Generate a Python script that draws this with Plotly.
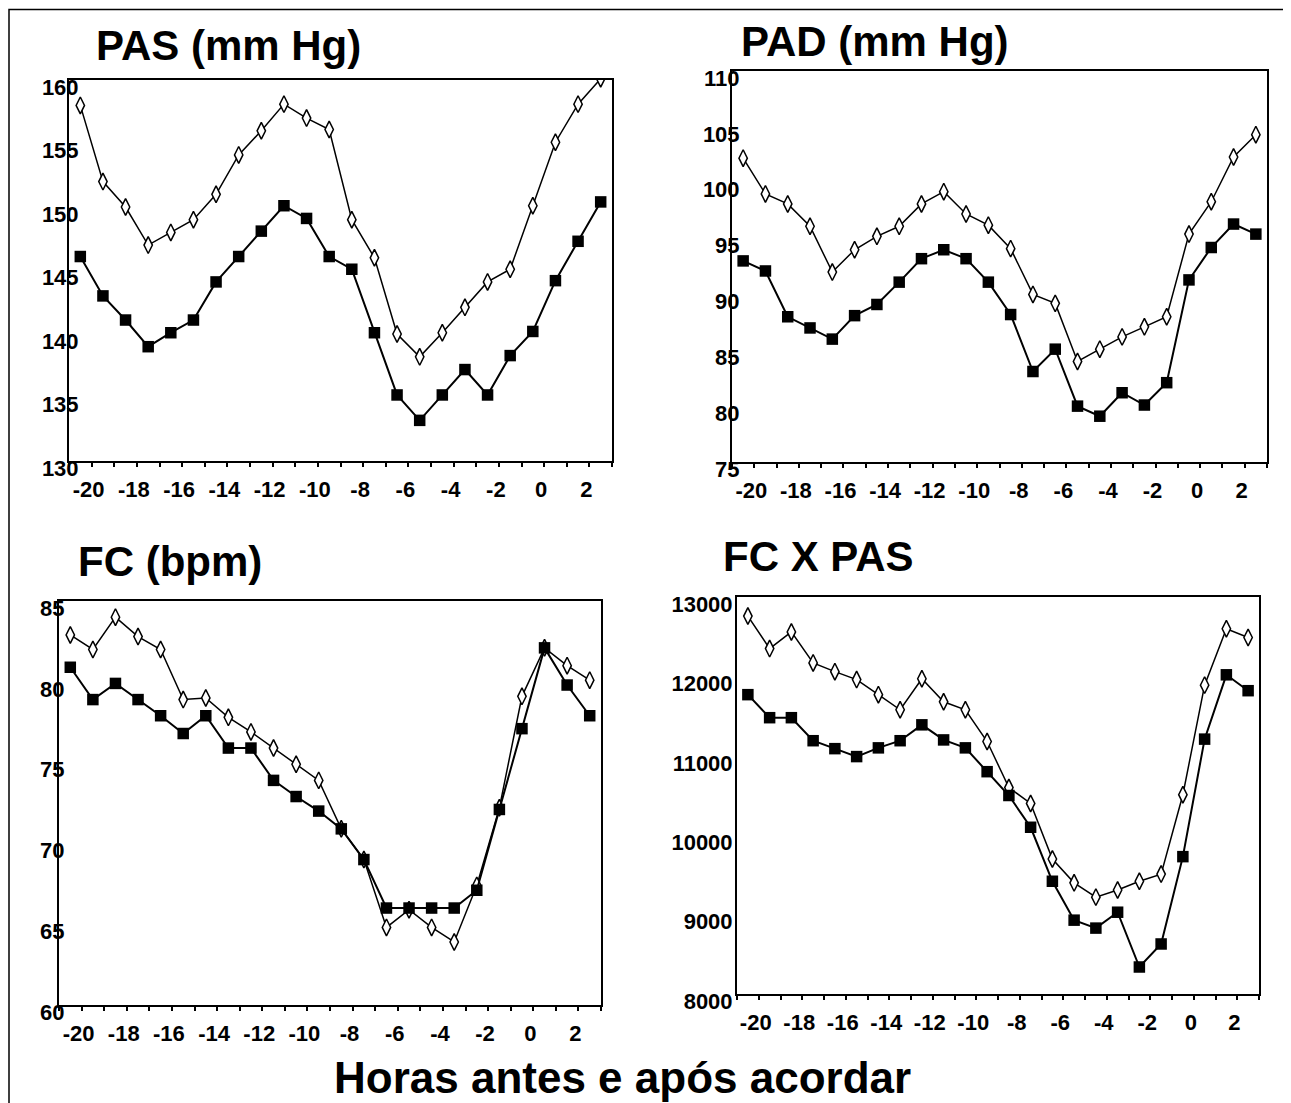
import plotly.graph_objects as go

# ---------------- data ----------------
hours = [-20.5, -19.5, -18.5, -17.5, -16.5, -15.5, -14.5, -13.5, -12.5, -11.5, -10.5, -9.5,
         -8.5, -7.5, -6.5, -5.5, -4.5, -3.5, -2.5, -1.5, -0.5, 0.5, 1.5, 2.5]

xtick_vals = [-20, -18, -16, -14, -12, -10, -8, -6, -4, -2, 0, 2]
xtick_text = ["-20", "-18", "-16", "-14", "-12", "-10", "-8", "-6", "-4", "-2", "0", "2"]

pas_open = [158.0, 152.0, 150.0, 147.0, 148.0, 149.0, 151.0, 154.1, 156.0, 158.1, 157.0, 156.1,
            149.0, 146.0, 140.0, 138.2, 140.1, 142.1, 144.1, 145.1, 150.1, 155.1, 158.1, 160.1]
pas_filled = [146.1, 143.0, 141.1, 139.0, 140.1, 141.1, 144.1, 146.1, 148.1, 150.1, 149.1, 146.1,
              145.1, 140.1, 135.2, 133.2, 135.2, 137.2, 135.2, 138.3, 140.2, 144.2, 147.3, 150.4]

pad_open = [102.2, 99.0, 98.1, 96.1, 92.0, 94.0, 95.2, 96.1, 98.1, 99.2, 97.2, 96.2,
            94.1, 90.0, 89.2, 84.0, 85.1, 86.2, 87.1, 88.0, 95.4, 98.3, 102.3, 104.3]
pad_filled = [93.0, 92.1, 88.0, 87.0, 86.0, 88.1, 89.1, 91.1, 93.2, 94.0, 93.2, 91.1,
              88.2, 83.1, 85.1, 80.0, 79.1, 81.2, 80.1, 82.1, 91.3, 94.2, 96.3, 95.4]

fc_open = [82.9, 82.0, 84.0, 82.8, 82.0, 78.9, 79.0, 77.8, 76.9, 75.9, 74.9, 73.9,
           70.9, 69.0, 64.8, 65.9, 64.8, 63.9, 67.4, 72.2, 79.1, 82.1, 81.0, 80.1]
fc_filled = [80.9, 78.9, 79.9, 78.9, 77.9, 76.8, 77.9, 75.9, 75.9, 73.9, 72.9, 72.0,
             70.9, 69.0, 66.0, 66.0, 66.0, 66.0, 67.1, 72.1, 77.1, 82.1, 79.8, 77.9]

fcpas_open = [12760, 12350, 12560, 12170, 12060, 11960, 11770, 11580, 11970, 11680, 11580, 11180,
              10600, 10400, 9700, 9400, 9220, 9310, 9420, 9510, 10510, 11890, 12600, 12490]
fcpas_filled = [11770, 11480, 11480, 11190, 11090, 10990, 11100, 11190, 11390, 11200, 11100, 10800,
                10500, 10100, 9420, 8930, 8830, 9030, 8340, 8630, 9730, 11210, 12020, 11820]

titles = ["PAS (mm Hg)", "PAD (mm Hg)", "FC (bpm)", "FC X PAS"]
x_title = "Horas antes e após acordar"

# ---------------- layout geometry (screen pixels) ----------------
W, H = 1291, 1103
OFF = 8  # default page body margin


def px(x):
    return (x - OFF) / W


def py(y):
    return 1 - (y - OFF) / H


panels = [
    dict(box=(69, 612, 80, 461), yr=[130, 160], dt=5, up=pas_open, lo=pas_filled,
         title=titles[0], tpos=(228, 46), ystand=-16),
    dict(box=(732, 1267, 71, 462), yr=[75, 110], dt=5, up=pad_open, lo=pad_filled,
         title=titles[1], tpos=(875, 42), ystand=-14),
    dict(box=(59, 601, 601, 1005), yr=[60, 85], dt=5, up=fc_open, lo=fc_filled,
         title=titles[2], tpos=(170, 561), ystand=-12),
    dict(box=(737, 1259, 597, 994), yr=[8000, 13000], dt=1000, up=fcpas_open, lo=fcpas_filled,
         title=titles[3], tpos=(818, 556), ystand=-2),
]

TICK_FONT = dict(family="Liberation Sans Narrow, Arial Narrow, Liberation Sans", size=22,
                 color="black", weight="bold")
TITLE_FONT = dict(family="Liberation Sans, Arial, sans-serif", size=42, color="black", weight="bold")
XTITLE_FONT = dict(family="Liberation Sans, Arial, sans-serif", size=44, color="black", weight="bold")

fig = go.Figure()
annotations = []
for i, p in enumerate(panels, start=1):
    xa = "x" if i == 1 else f"x{i}"
    ya = "y" if i == 1 else f"y{i}"
    fig.add_trace(go.Scatter(
        x=hours, y=p["up"], xaxis=xa, yaxis=ya, mode="lines+markers",
        line=dict(color="black", width=1.5),
        marker=dict(symbol="diamond-tall", size=12, color="white",
                    line=dict(color="black", width=1.5)),
        showlegend=False))
    fig.add_trace(go.Scatter(
        x=hours, y=p["lo"], xaxis=xa, yaxis=ya, mode="lines+markers",
        line=dict(color="black", width=2),
        marker=dict(symbol="square", size=11.5, color="black",
                    line=dict(color="black", width=0)),
        showlegend=False))
    l, r, t, b = p["box"]
    fig.layout[f"xaxis{'' if i == 1 else i}"] = dict(
        domain=[px(l), px(r)], range=[-21, 3], anchor=ya,
        showline=True, linecolor="black", linewidth=2, mirror=True,
        showgrid=False, zeroline=False,
        tickvals=xtick_vals, ticktext=xtick_text,
        ticks="outside", ticklen=4, tickwidth=1.5, tickcolor="black",
        minor=dict(ticks="outside", dtick=1, tick0=0, ticklen=4, tickwidth=1.5, tickcolor="black"),
        tickfont=TICK_FONT, ticklabelstandoff=4, ticklabelshift=-3,
    )
    fig.layout[f"yaxis{'' if i == 1 else i}"] = dict(
        domain=[py(b), py(t)], range=p["yr"], dtick=p["dt"], anchor=xa,
        showline=True, linecolor="black", linewidth=2, mirror=True,
        showgrid=False, zeroline=False, ticks="",
        tickfont=TICK_FONT, ticklabelstandoff=p["ystand"], ticklabelshift=7,
        tickformat="d",
    )
    annotations.append(dict(
        text=p["title"], x=px(p["tpos"][0]), y=py(p["tpos"][1]), xref="paper", yref="paper",
        xanchor="center", yanchor="middle", showarrow=False, font=TITLE_FONT))

annotations.append(dict(
    text=x_title, x=px(622), y=py(1077), xref="paper", yref="paper",
    xanchor="center", yanchor="middle", showarrow=False, font=XTITLE_FONT))

fig.update_layout(
    width=W, height=H,
    margin=dict(l=0, r=0, t=0, b=0, autoexpand=False),
    paper_bgcolor="white", plot_bgcolor="white",
    annotations=annotations,
    shapes=[dict(type="rect", xref="paper", yref="paper",
                 x0=px(9), x1=1.02, y0=py(9.5), y1=-0.02,
                 line=dict(color="black", width=1.5))],
)

fig.write_html("out.html")
